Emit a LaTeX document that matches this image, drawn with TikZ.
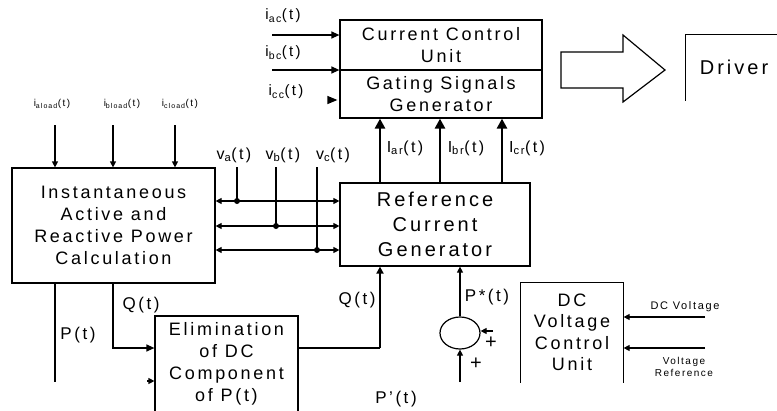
\documentclass[tikz,border=0pt]{standalone}
\usepackage{fontspec}
\setmainfont{Liberation Sans}[LetterSpace=15]
\usetikzlibrary{arrows.meta,shapes.geometric}
\begin{document}
\begin{tikzpicture}[x=1pt,y=-1pt,line width=1.2pt,
  >={Triangle[length=8pt,width=7pt]},
  box/.style={draw,rectangle,inner sep=0pt,align=center,font=\fontsize{18}{22}\selectfont},
  lbl/.style={inner sep=0pt,font=\fontsize{17}{20}\selectfont},
  small/.style={inner sep=0pt,align=center,font=\fontsize{10}{12}\selectfont},
  thickarrow/.style={line width=2.6pt,-{Triangle[length=10pt,width=10pt]}},
  thinarrow/.style={-{Triangle[length=6pt,width=6pt]}},
  junction/.style={circle,fill,inner sep=0pt,minimum size=6pt}]
\clip (0,0) rectangle (777,410);
% blocks
\node[box,minimum width=202pt,minimum height=50pt] (ccu) at (441,45) {Current Control\\Unit};
\node[box,minimum width=202pt,minimum height=48pt] (gsg) at (441,94) {Gating Signals\\Generator};
\node[inner sep=0pt,minimum width=96pt,minimum height=65pt,font=\fontsize{20}{22}\selectfont] (drv) at (734,67.5) {Driver};
\draw (drv.south west) -- (drv.north west) -- (drv.north east);
\draw (561,52) -- (623,52) -- (623,35) -- (665,70) -- (623,102) -- (623,88) -- (561,88) -- cycle;
\node[box,minimum width=203pt,minimum height=115pt] (ipc) at (113.5,225.5) {Instantaneous\\Active and\\Reactive Power\\Calculation};
\node[box,minimum width=190pt,minimum height=83pt,font=\fontsize{20}{25}\selectfont] (rcg) at (435,224.5) {Reference\\Current\\Generator};
\node[box,minimum width=143pt,minimum height=96pt] (elim) at (226.5,364) {Elimination\\of DC\\Component\\of P(t)};
\node[inner sep=0pt,align=center,minimum width=102pt,minimum height=99pt,font=\fontsize{18}{21.5}\selectfont] (dcu) at (572,332.5) {DC\\Voltage\\Control\\Unit};
\draw (dcu.south west) -- (dcu.north west) -- (dcu.north east) -- (dcu.south east);
\node[draw,ellipse,inner sep=0pt,minimum width=40pt,minimum height=32pt] (sum) at (460,333) {};
% current inputs to the control unit
\coordinate (iac) at (272,35);
\coordinate (ibc) at (272,70);
\coordinate (icc) at (329,100);
\draw[->] (iac) -- (iac -| ccu.west);
\draw[->] (ibc) -- (ibc -| ccu.west);
\draw[-{Triangle[length=10pt,width=8pt]}] (icc) -- ([xshift=-2pt]icc -| ccu.west);
\node[lbl,font=\fontsize{15}{18}\selectfont] (liac) at (283,16) {i\textsubscript{ac}(t)};
\node[lbl,font=\fontsize{15}{18}\selectfont] (libc) at (283,53) {i\textsubscript{bc}(t)};
\node[lbl,font=\fontsize{15}{18}\selectfont] (licc) at (286,92) {i\textsubscript{cc}(t)};
% load currents
\foreach \x/\n/\lx in {55/a/52,113/b/122,175/c/180}{
  \coordinate (l\n) at (\x,125);
  \draw[thinarrow] (l\n) -- (l\n |- ipc.north);
  \node[small] (ll\n) at (\lx,104) {i\textsubscript{\n load}(t)};
}
% voltages
\foreach \x/\y/\n/\lx in {237/201/a/234,276/226/b/283,317/250/c/333}{
  \coordinate (v\n) at (\x,167);
  \coordinate (h\n) at (\x,\y);
  \draw (v\n) -- (h\n);
  \draw[{Triangle[length=6pt,width=6pt]}-{Triangle[length=6pt,width=6pt]}] (h\n -| ipc.east) -- (h\n -| rcg.west);
  \node[junction] (j\n) at (h\n) {};
  \node[lbl,font=\fontsize{16}{18}\selectfont] (lv\n) at (\lx,155) {v\textsubscript{\n}(t)};
}
% reference currents
\foreach \x/\n/\lx in {380/a/405,440/b/466,502/c/527}{
  \coordinate (r\n) at (\x,0);
  \draw[thickarrow] (rcg.north -| r\n) -- (gsg.south -| r\n);
  \node[lbl,font=\fontsize{16}{18}\selectfont] (lr\n) at (\lx,148) {I\textsubscript{\n r}(t)};
}
% Q and P from power calculation
\coordinate (q1) at (113,348);
\draw[->] (ipc.south -| q1) -- (q1) -- (q1 -| elim.west);
\node[lbl] (lq1) at (141,305) {Q(t)};
\coordinate (p1) at (55,382);
\draw (ipc.south -| p1) -- (p1);
\node[lbl] (lp1) at (78,335) {P(t)};
\coordinate (pa) at (147,381);
\draw[thinarrow] (pa) -- (pa -| elim.west);
% Q(t) to reference generator
\coordinate (q2) at (380,348);
\draw (elim.east |- q2) -- (q2);
\draw[line width=2.2pt,-{Triangle[length=7pt,width=7pt]}] (q2) -- (q2 |- rcg.south);
\node[lbl] (lq2) at (357,300) {Q(t)};
\node[lbl] (lpp) at (396,399) {P'(t)};
% summing junction
\draw[thinarrow] (sum.north) -- (sum.north |- rcg.south);
\node[lbl] (lps) at (487,297) {P*(t)};
\coordinate (sb) at (460,382);
\draw[thinarrow] (sb) -- (sum.south);
\coordinate (sr) at (493,331);
\draw[thinarrow] (sr) -- (sum.east |- sr);
\node[lbl,font=\fontsize{20}{20}\selectfont] (pl1) at (476,364) {+};
\node[lbl,font=\fontsize{20}{20}\selectfont] (pl2) at (491,343) {+};
% DC voltage inputs
\coordinate (dv) at (705,317);
\draw[thinarrow] (dv) -- (dv -| dcu.east);
\node[small,font=\fontsize{11}{12}\selectfont] (ldv) at (685,307) {DC Voltage};
\coordinate (vr) at (705,348);
\draw[thinarrow] (vr) -- (vr -| dcu.east);
\node[small,font=\fontsize{10}{12.5}\selectfont] (lvr) at (684,367) {Voltage\\Reference};
\end{tikzpicture}
\end{document}
